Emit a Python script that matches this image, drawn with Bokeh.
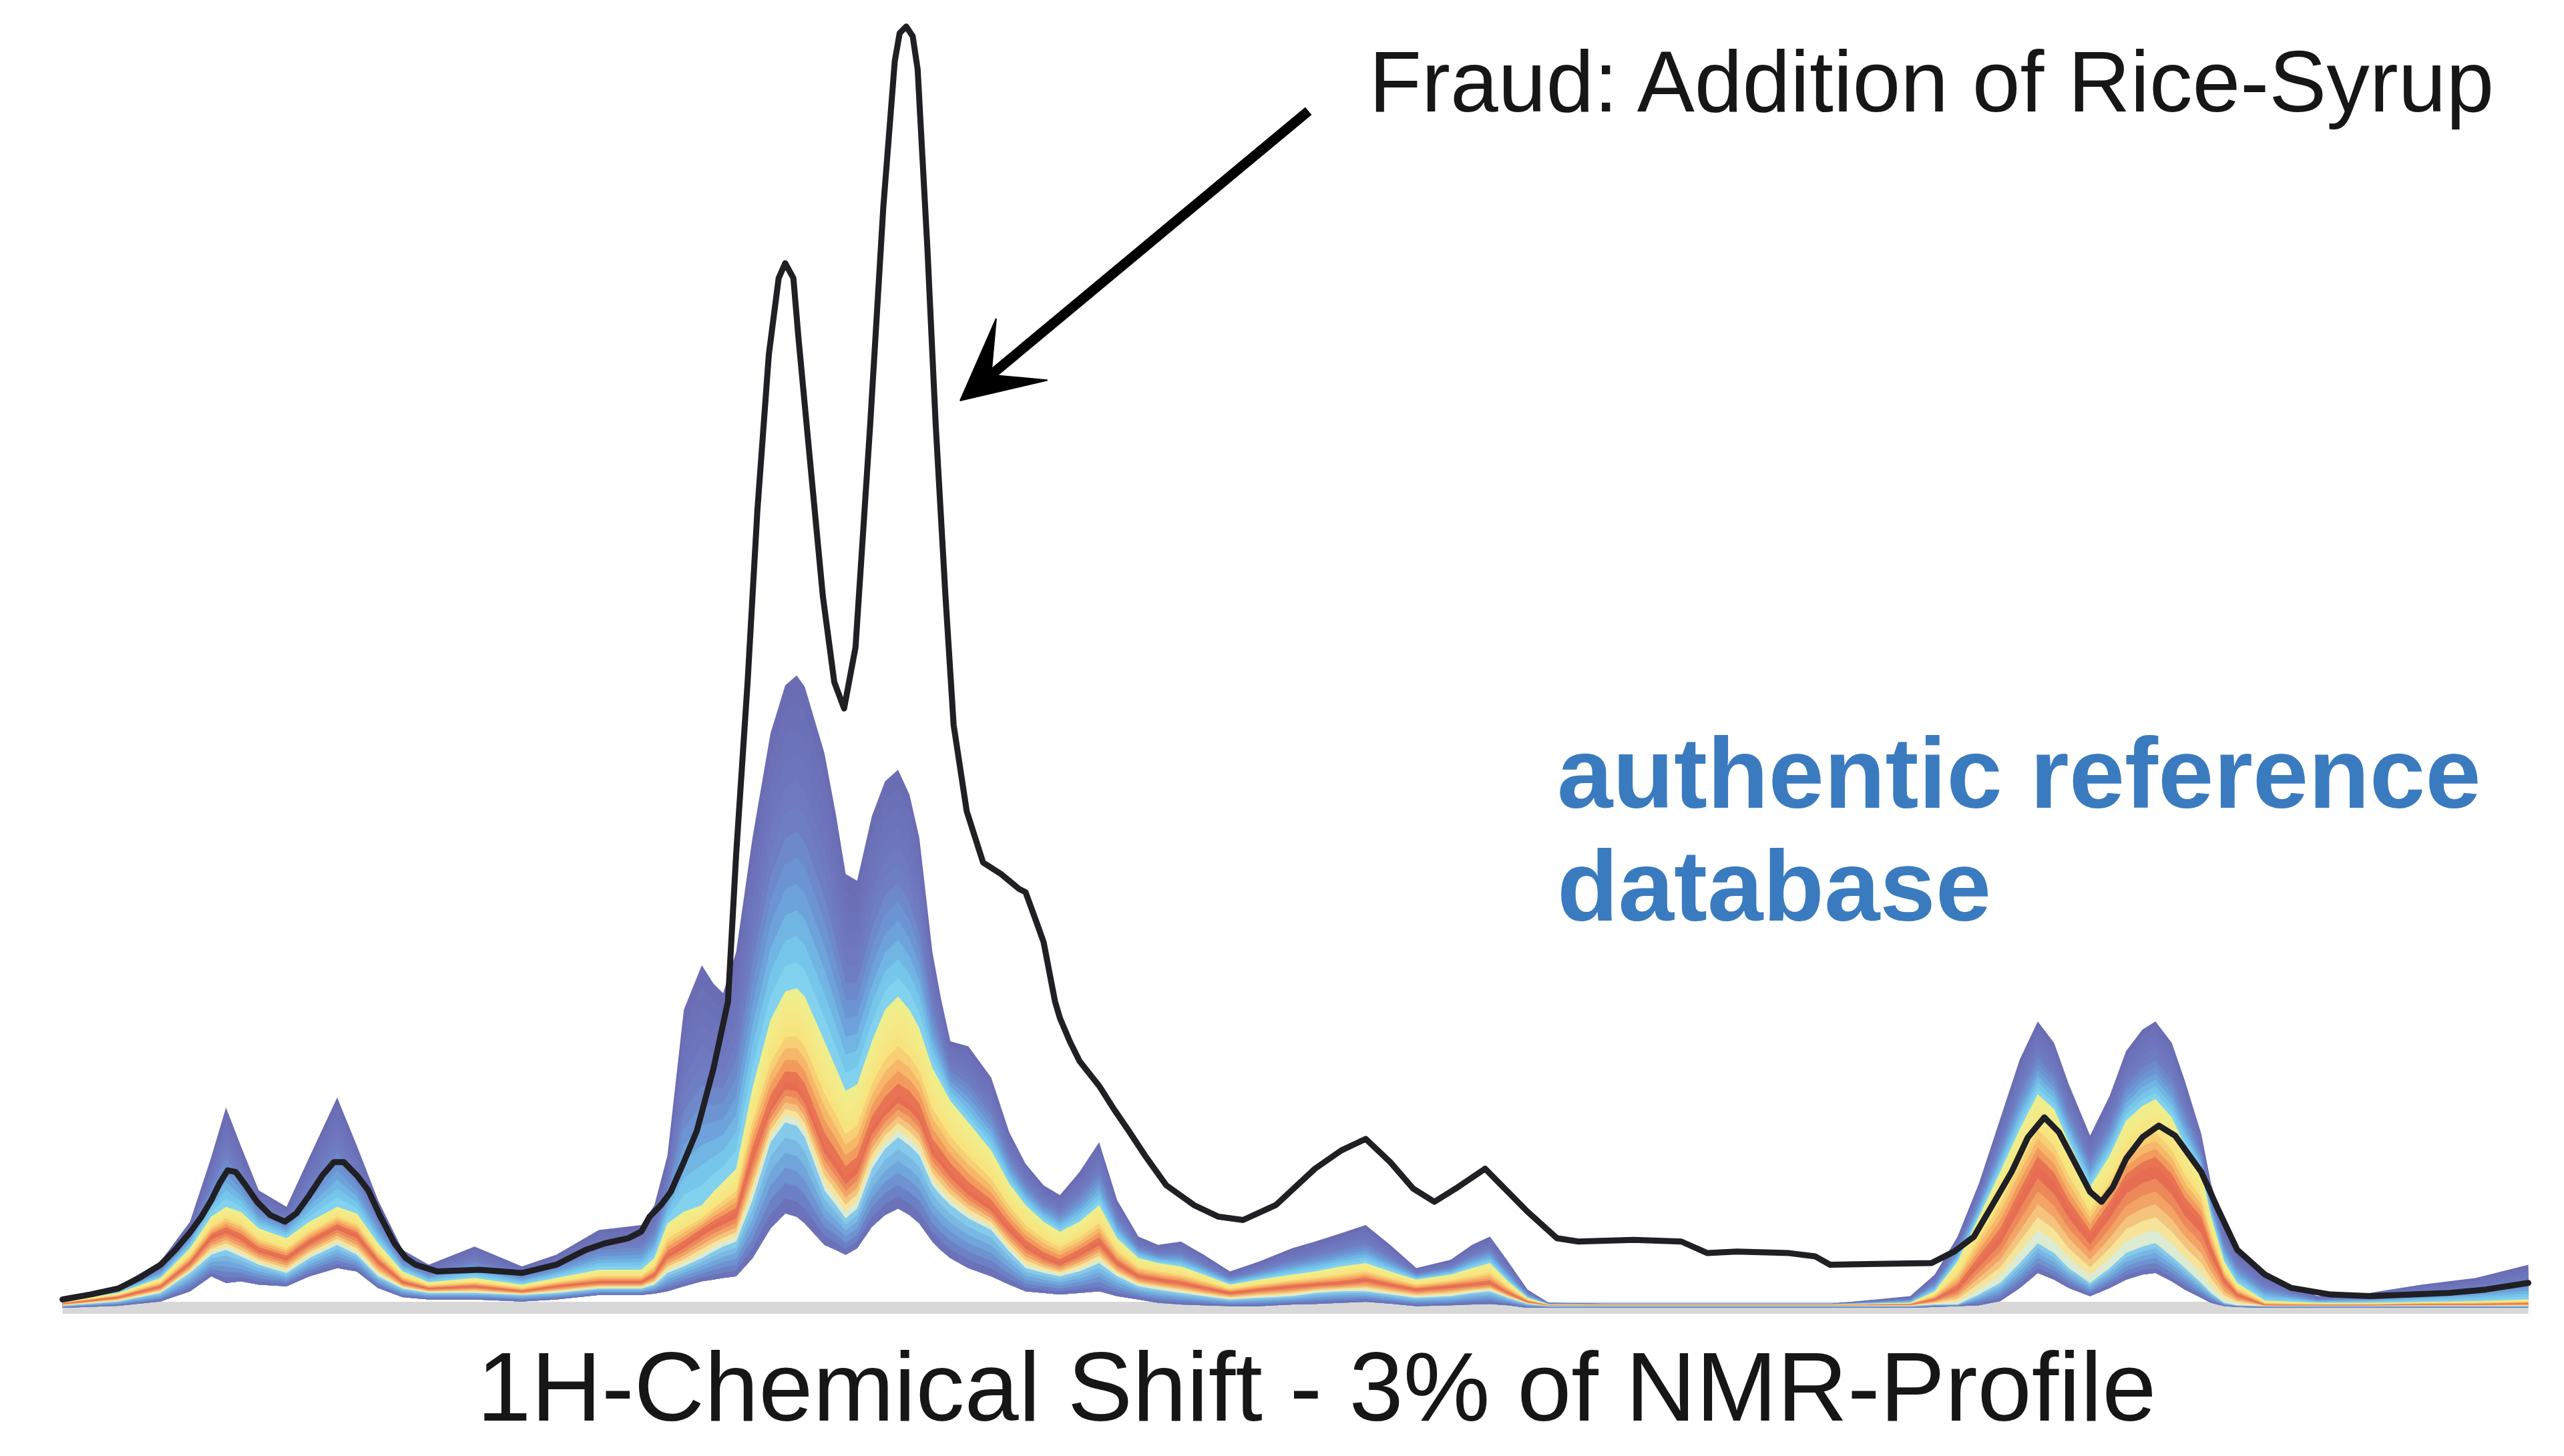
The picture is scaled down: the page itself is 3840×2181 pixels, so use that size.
from bokeh.plotting import figure
from bokeh.models import Range1d, Arrow, VeeHead
from bokeh.core.properties import value
from bokeh.embed import file_html
from bokeh.resources import INLINE

# ---- authentic reference database: quantile envelope of spectra (shift index, intensity) ----
shift = [38, 72, 98, 116, 129, 138, 147, 158, 175, 189, 206, 218, 231, 246, 262, 290, 319, 340, 366,
         392, 400, 408, 418, 429, 436, 442, 450, 460, 471, 480, 487, 492, 504, 511, 517, 524, 533, 541,
         549, 556, 562, 570, 575, 581, 592, 606, 617, 627, 638, 648, 660, 672, 683, 696, 708, 722, 736,
         752, 770, 790, 804, 820, 835, 850, 866, 887, 900, 911, 922, 934, 947, 980, 1050, 1120, 1168,
         1183, 1197, 1210, 1223, 1235, 1246, 1256, 1265, 1278, 1290, 1300, 1310, 1318, 1328, 1336,
         1346, 1352, 1360, 1368, 1385, 1417, 1449, 1481, 1514, 1546]
upper = [6, 13, 28, 52, 91, 121, 98, 71, 61, 91, 127, 98, 65, 35, 26, 37, 25, 32, 47,
         50, 62, 92, 180, 207, 196, 190, 215, 284, 347, 376, 382, 375, 335, 298, 262, 258, 297, 318,
         325, 310, 284, 215, 188, 161, 158, 139, 106, 87, 74, 68, 82, 100, 65, 43, 38, 40, 32,
         22, 28, 36, 40, 45, 50, 38, 24, 29, 38, 43, 28, 11, 3, 2.5, 2.5, 2.5, 7,
         20, 43, 75, 114, 150, 173, 160, 135, 104, 128, 155, 168, 173, 160, 137,
         105, 75, 50, 35, 20, 7, 9, 14, 18, 26]
q75 = [3.8, 9, 18, 36, 55, 61, 58, 48, 42, 52, 61, 57, 39, 22, 15.5, 18, 14, 18, 23,
       23, 30, 51, 58, 62, 70, 76, 84, 133, 174, 191, 193, 188, 161, 145, 131, 135, 161, 180,
       188, 180, 169, 145, 136, 125, 112, 95, 75, 62, 52, 46, 52, 62, 42, 30, 27, 25, 20,
       14, 17, 20, 22, 25, 27, 22, 17, 20, 24, 27, 16, 6, 2, 2, 2, 2, 3,
       10, 28, 55, 82, 108, 129, 120, 100, 73, 92, 113, 122, 126, 115, 98,
       82, 55, 28, 15, 4.3, 3, 3, 3.5, 4, 5]
median = [2.5, 6.4, 12.9, 27, 43, 47, 43, 35, 30, 40, 49, 44, 28, 15.5, 11.6, 13, 10, 13, 15.5,
          15.5, 20, 32, 38, 46, 50, 53, 57, 92, 122, 136, 135, 128, 98, 88, 79, 85, 109, 120,
          128, 124, 117, 96, 90, 82, 71, 61, 48, 38, 31, 27, 33, 40, 27, 19, 17, 15, 12,
          9, 11, 13, 14, 15, 17, 14, 11, 13, 14, 15, 9, 3.6, 1.5, 1.5, 1.5, 1.5, 2,
          5, 12, 28, 43, 66, 86, 76, 60, 43, 60, 76, 83, 86, 76, 62,
          51, 35, 17, 8, 1.5, 1.5, 1.5, 2, 2, 2.5]
q25 = [1.2, 3.8, 9, 21, 32, 35, 31, 26, 21, 30, 38, 32, 19, 11.6, 9, 9, 7.7, 9, 11.6,
       11.6, 14, 21, 25, 30, 34, 37, 40, 65, 100, 112, 110, 103, 71, 62, 54, 60, 84, 96,
       103, 98, 92, 74, 68, 62, 54, 47, 34, 24, 21, 19, 22, 27, 19, 13, 11, 9, 7,
       5, 6, 7, 9, 10, 10, 8, 6, 7, 9, 10, 6, 2.3, 1, 1, 1, 1, 1,
       2, 2, 8, 15, 27, 39, 33, 24, 15, 24, 33, 37, 39, 31, 24,
       15, 9, 3, 1.5, 1, 1, 1, 1, 1, 1]
lower = [0, 1.2, 3.8, 10, 19, 15, 16, 14, 13, 19, 24, 22, 12, 6.4, 5, 5, 3.8, 5, 7.7,
         7.7, 8.5, 10, 13, 16, 17, 18, 19, 30, 48, 57, 55, 51, 38, 35, 32, 36, 49, 56,
         60, 56, 51, 40, 35, 30, 24, 19, 14, 10, 9, 8, 9, 10, 7, 5, 3, 2, 1.5,
         1, 1, 2, 2.3, 3, 3.6, 2.5, 1, 1.5, 2, 2.3, 1.5, 0, 0, 0, 0, 0, 0,
         0.5, 1, 1.5, 4, 12, 21, 17, 12, 7, 12, 17, 20, 21, 16, 11,
         6, 3, 1, 0.5, 0, 0, 0, 0, 0, 0]

# ---- fraudulent sample (rice-syrup addition) ----
fraud_shift = [38, 55, 72, 85, 98, 107, 116, 123, 129, 134, 139, 144, 150, 157, 165, 174, 181, 189,
               197, 204, 210, 218, 225, 232, 241, 248, 254, 267, 293, 319, 340, 358, 370, 384, 392,
               397, 404, 410, 418, 426, 436, 445, 450, 457, 463, 470, 476, 480, 485, 488, 496, 503,
               510, 516, 523, 532, 540, 547, 550, 554, 558, 561, 567, 572, 578, 583, 591, 601, 612,
               623, 627, 634, 638, 645, 648, 654, 660, 672, 681, 690, 700, 713, 730, 745, 760, 780,
               804, 820, 835, 850, 864, 877, 890, 908, 920, 934, 952, 965, 999, 1028, 1044, 1062,
               1094, 1110, 1119, 1181, 1195, 1207, 1220, 1230, 1240, 1250, 1259, 1268, 1278, 1285,
               1292, 1300, 1310, 1320, 1330, 1346, 1356, 1368, 1385, 1401, 1425, 1449, 1475, 1498,
               1520, 1546]
fraud = [5, 8, 11.6, 18, 26, 35, 45.5, 55, 65, 75, 83, 82, 74, 64, 56, 52, 57, 68,
         80, 88, 88, 80, 71, 56, 39, 30, 26, 22, 23, 21, 26, 35, 39, 42, 46,
         55, 62, 70, 88, 107, 144, 185, 274, 378, 482, 576, 622, 631, 622, 587, 503, 430,
         378, 362, 399, 534, 665, 753, 770, 774, 768, 748, 639, 534, 430, 352, 300, 269, 262,
         253, 251, 232, 221, 185, 175, 161, 149, 134, 120, 107, 92, 74, 62, 55, 53, 62,
         84, 95, 102, 88, 72, 64, 72, 84, 72, 58, 42, 40, 41, 40, 33, 34,
         33, 31, 26, 27, 34, 43, 65, 82, 103, 115, 106, 89, 70, 64,
         73, 90, 103, 110, 104, 82, 60, 35, 20, 12, 8, 7, 8, 9,
         11, 15]

title_text = "Fraud: Addition of Rice-Syrup"
db_lines = ["authentic reference", "database"]
xlabel = "1H-Chemical Shift - 3% of NMR-Profile"


def hex_rgb(h):
    h = h.lstrip("#")
    return tuple(int(h[i:i + 2], 16) for i in (0, 2, 4))


def ramp(stops, t):
    for (t0, c0), (t1, c1) in zip(stops[:-1], stops[1:]):
        if t <= t1:
            f = 0 if t1 == t0 else (t - t0) / (t1 - t0)
            a, b = hex_rgb(c0), hex_rgb(c1)
            return "#%02x%02x%02x" % tuple(int(round(a[i] + (b[i] - a[i]) * f)) for i in range(3))
    return stops[-1][1]


p = figure(width=3824, height=2165, output_backend="svg", toolbar_location=None,
           x_range=Range1d(0, 1561.5), y_range=Range1d(-83.3, 789.8),
           min_border=0, min_border_left=0, min_border_right=0, min_border_top=0, min_border_bottom=0)
p.xaxis.visible = False
p.yaxis.visible = False
p.xgrid.visible = False
p.ygrid.visible = False
p.outline_line_color = None
p.background_fill_color = "white"
p.border_fill_color = "white"

# baseline
p.line(x=[shift[0], shift[-1]], y=[0, 0], line_color="#d8d8d8", line_width=18)

# gradient fill between quantile curves (drawn top to bottom, each down to the lower envelope)
segments = [
    (upper, q75, 12, [(0.0, "#6a6cb3"), (0.45, "#6f7cc2"), (0.68, "#6c9cd7"), (0.85, "#73c2ec"), (1.0, "#88d7ef")]),
    (q75, median, 8, [(0.0, "#eef08f"), (0.45, "#f8e47f"), (0.78, "#f5a560"), (1.0, "#e3604e")]),
    (median, q25, 6, [(0.0, "#e3604e"), (0.4, "#f2a062"), (0.75, "#f6e49a"), (1.0, "#cfeef0")]),
    (q25, lower, 6, [(0.0, "#8ad3ee"), (0.4, "#70a8dc"), (0.8, "#6c7bc2"), (1.0, "#6a6cb3")]),
]
for top, bot, n, stops in segments:
    for k in range(n):
        f = k / n
        edge = [a + (b - a) * f for a, b in zip(top, bot)]
        p.varea(x=shift, y1=lower, y2=edge, fill_color=ramp(stops, (k + 0.5) / n), fill_alpha=1.0)

# fraudulent spectrum
p.line(x=fraud_shift, y=fraud, line_color="#1f1f24", line_width=9, line_join="round", line_cap="round")

# annotation arrow
p.add_layout(Arrow(end=VeeHead(size=120, fill_color="black", line_color="black", line_width=2),
                   x_start=800, y_start=723, x_end=587, y_end=548,
                   line_color="black", line_width=15))

font = value("Liberation Sans")
p.text(x=[837], y=[741], text=[title_text], text_font=font, text_font_size="129px",
       text_color="#161616", text_align="left", text_baseline="alphabetic")
p.text(x=[952, 952], y=[323, 255], text=db_lines, text_font=font, text_font_size="150px",
       text_font_style="bold", text_color="#3a7bbf", text_align="left", text_baseline="alphabetic")
p.text(x=[805], y=[-48], text=[xlabel], text_font=font, text_font_size="146px",
       text_color="#161616", text_align="center", text_baseline="alphabetic")

open("out.html", "w").write(file_html(p, INLINE))
